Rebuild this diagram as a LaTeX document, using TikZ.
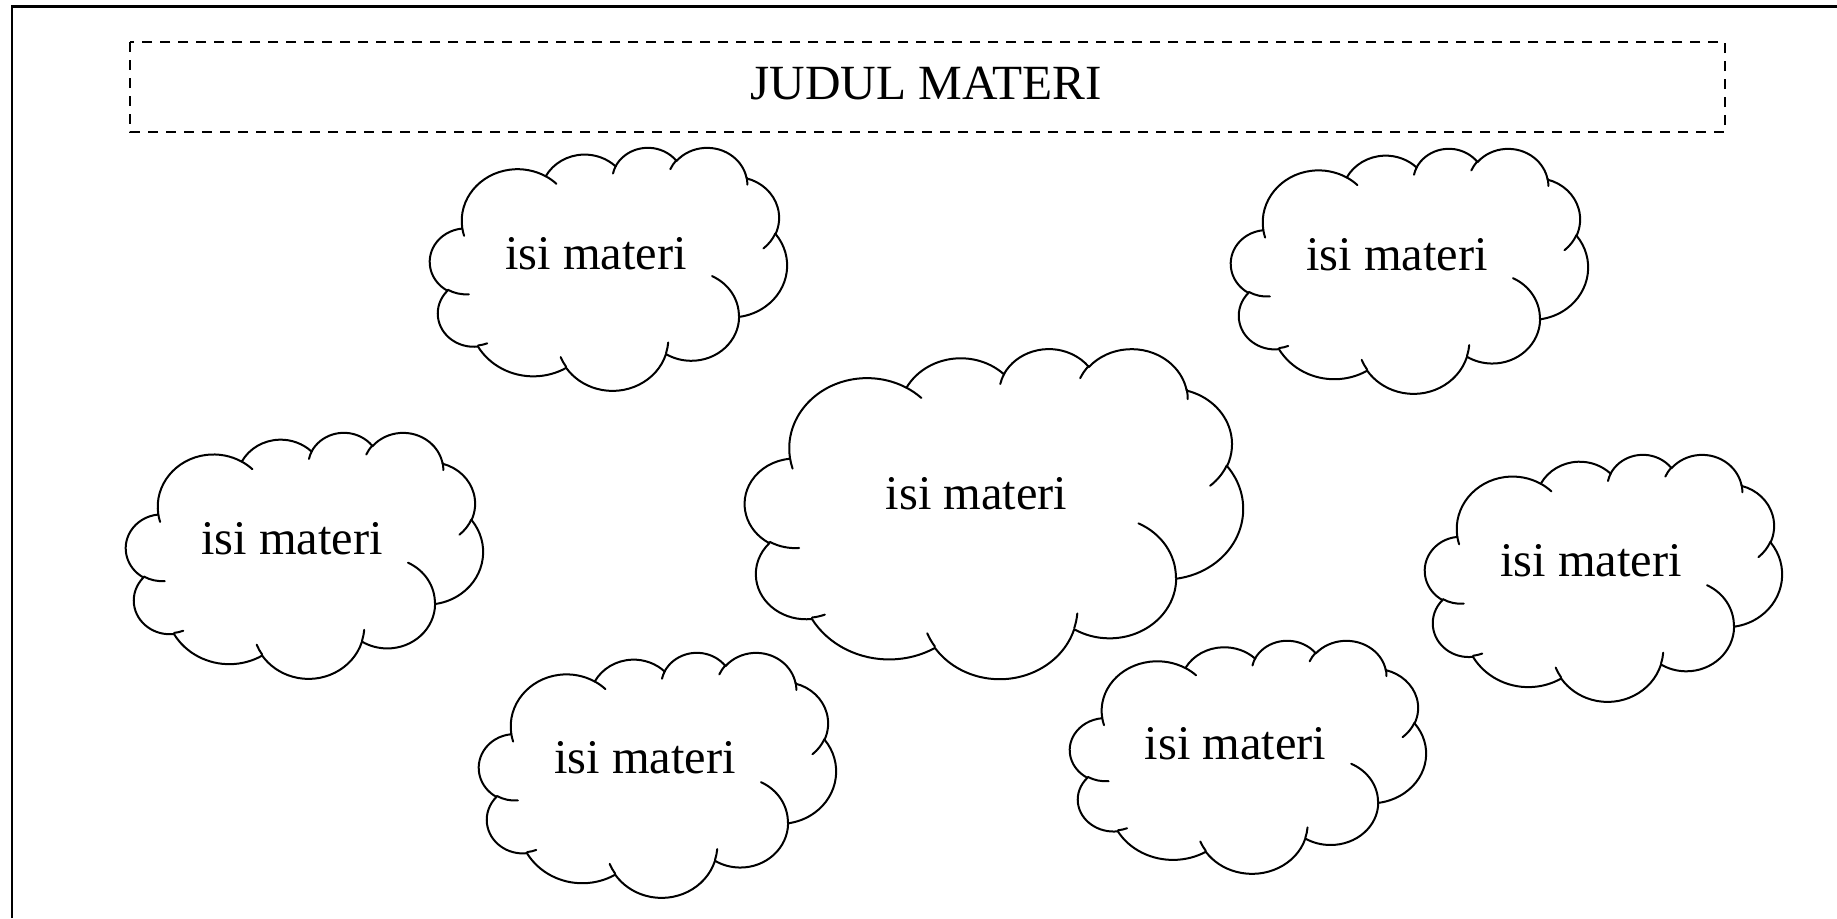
\documentclass[tikz,border=0pt]{standalone}
\usepackage{fontspec}
\setmainfont{Liberation Serif}
\tikzset{
  cloudline/.style={line width=1pt, line join=round, line cap=round},
  cloudtext/.style={inner sep=0pt, anchor=base, font=\fontsize{24.2}{28}\selectfont},
  titletext/.style={inner sep=0pt, anchor=base, font=\fontsize{24.6}{28}\selectfont},
  dashbox/.style={line width=1pt, dash pattern=on 5pt off 4pt},
  framestyle/.style={line width=1.25pt}
}
\newcommand\carc[4]{arc[start angle={pa(#1,#2,#3)}, delta angle={mod(pa(#1,#2,#3+#4)-pa(#1,#2,#3)+720,360)}, x radius=#1pt, y radius=#2pt]}
% #1 left, #2 top, #3 width, #4 height (px), #5 name, #6 text offset (px), #7 text
\newcommand\cloudat[7]{%
  \begin{scope}[shift={(#1,#2)}, x=1pt, y=1pt, xscale=#3/864, yscale=-#4/864]
    \draw[cloudline, fill=white] (39,143.70)
      \carc{67.53}{91.90}{-190.48748}{123.78053}
      \carc{53.33}{72.67}{-144.10238}{89.94523}
      \carc{43.65}{59.45}{-145.80792}{99.72302}
      \carc{48.57}{65.95}{-130.98607}{117.24173}
      \carc{53.33}{72.73}{-78.70888}{109.02692}
      \carc{67.75}{92.20}{-46.26725}{130.269}
      \carc{57.85}{78.67}{0.62502}{114.03333}
      \carc{67.52}{92.15}{22.4516}{115.17255}
      \carc{77.20}{105.43}{66.24263}{75.71102}
      \carc{43.60}{59.18}{-274.94208}{146.73557}
      \carc{43.45}{59.45}{-246.8285}{152.51695}
      -- cycle;
    \draw[cloudline]
      (46.93,261.77) \carc{43.45}{59.45}{86.742}{26.4295}
      (69.28,348.99) \carc{43.60}{59.18}{73.61047}{11.44747}
      (164.78,390.90) \carc{67.52}{92.15}{137.62415}{14.0811}
      (288.27,347.51) \carc{67.52}{92.15}{6.45327}{15.99835}
      (341.29,229.54) \carc{57.85}{78.67}{-70.29235}{70.91737}
      (417.98,153.54) \carc{53.33}{72.73}{30.31803}{27.7515}
      (383.24,54.26) \carc{48.57}{65.95}{-13.74433}{14.8589}
      (290.78,39.52) \carc{48.57}{65.95}{-149.18145}{18.19537}
      (221.41,47.20) \carc{43.65}{59.45}{-163.49427}{17.68635}
      (140.00,51.92) \carc{67.53}{91.90}{-66.70695}{12.31935}
      (41.27,157.89) \carc{67.53}{91.90}{157.65435}{11.85817};
  \end{scope}
  \node[cloudtext] (#5) at ({#1+0.465*#3},{#2+0.49*#4+#6}) {#7};
}
\begin{document}
\begin{tikzpicture}[x=0.5pt, y=-0.5pt,
  declare function={pa(\w,\h,\t)=atan2(\w*sin(\t),\h*cos(\t));}]
\useasboundingbox (0,0) rectangle (1837,918);
\fill[white] (0,0) rectangle (1837,918);
% outer frame (only top and left edges visible)
\draw[framestyle] (12,918) -- (12,6.5) -- (1837,6.5);
% title box
\draw[dashbox] (130,42) rectangle (1725,132);
\node[titletext] (title) at (926,99.5) {JUDUL MATERI};
% clouds
\cloudat{430}{147}{357}{243}{c1}{3}{isi materi}
\cloudat{1231}{148}{357}{245}{c2}{2}{isi materi}
\cloudat{745}{348}{498}{330}{c3}{0}{isi materi}
\cloudat{126}{432}{357}{246}{c4}{2}{isi materi}
\cloudat{1425}{454}{357}{247}{c5}{1}{isi materi}
\cloudat{479}{652}{357}{245}{c6}{1}{isi materi}
\cloudat{1070}{640}{356}{233}{c7}{5}{isi materi}
\end{tikzpicture}
\end{document}
